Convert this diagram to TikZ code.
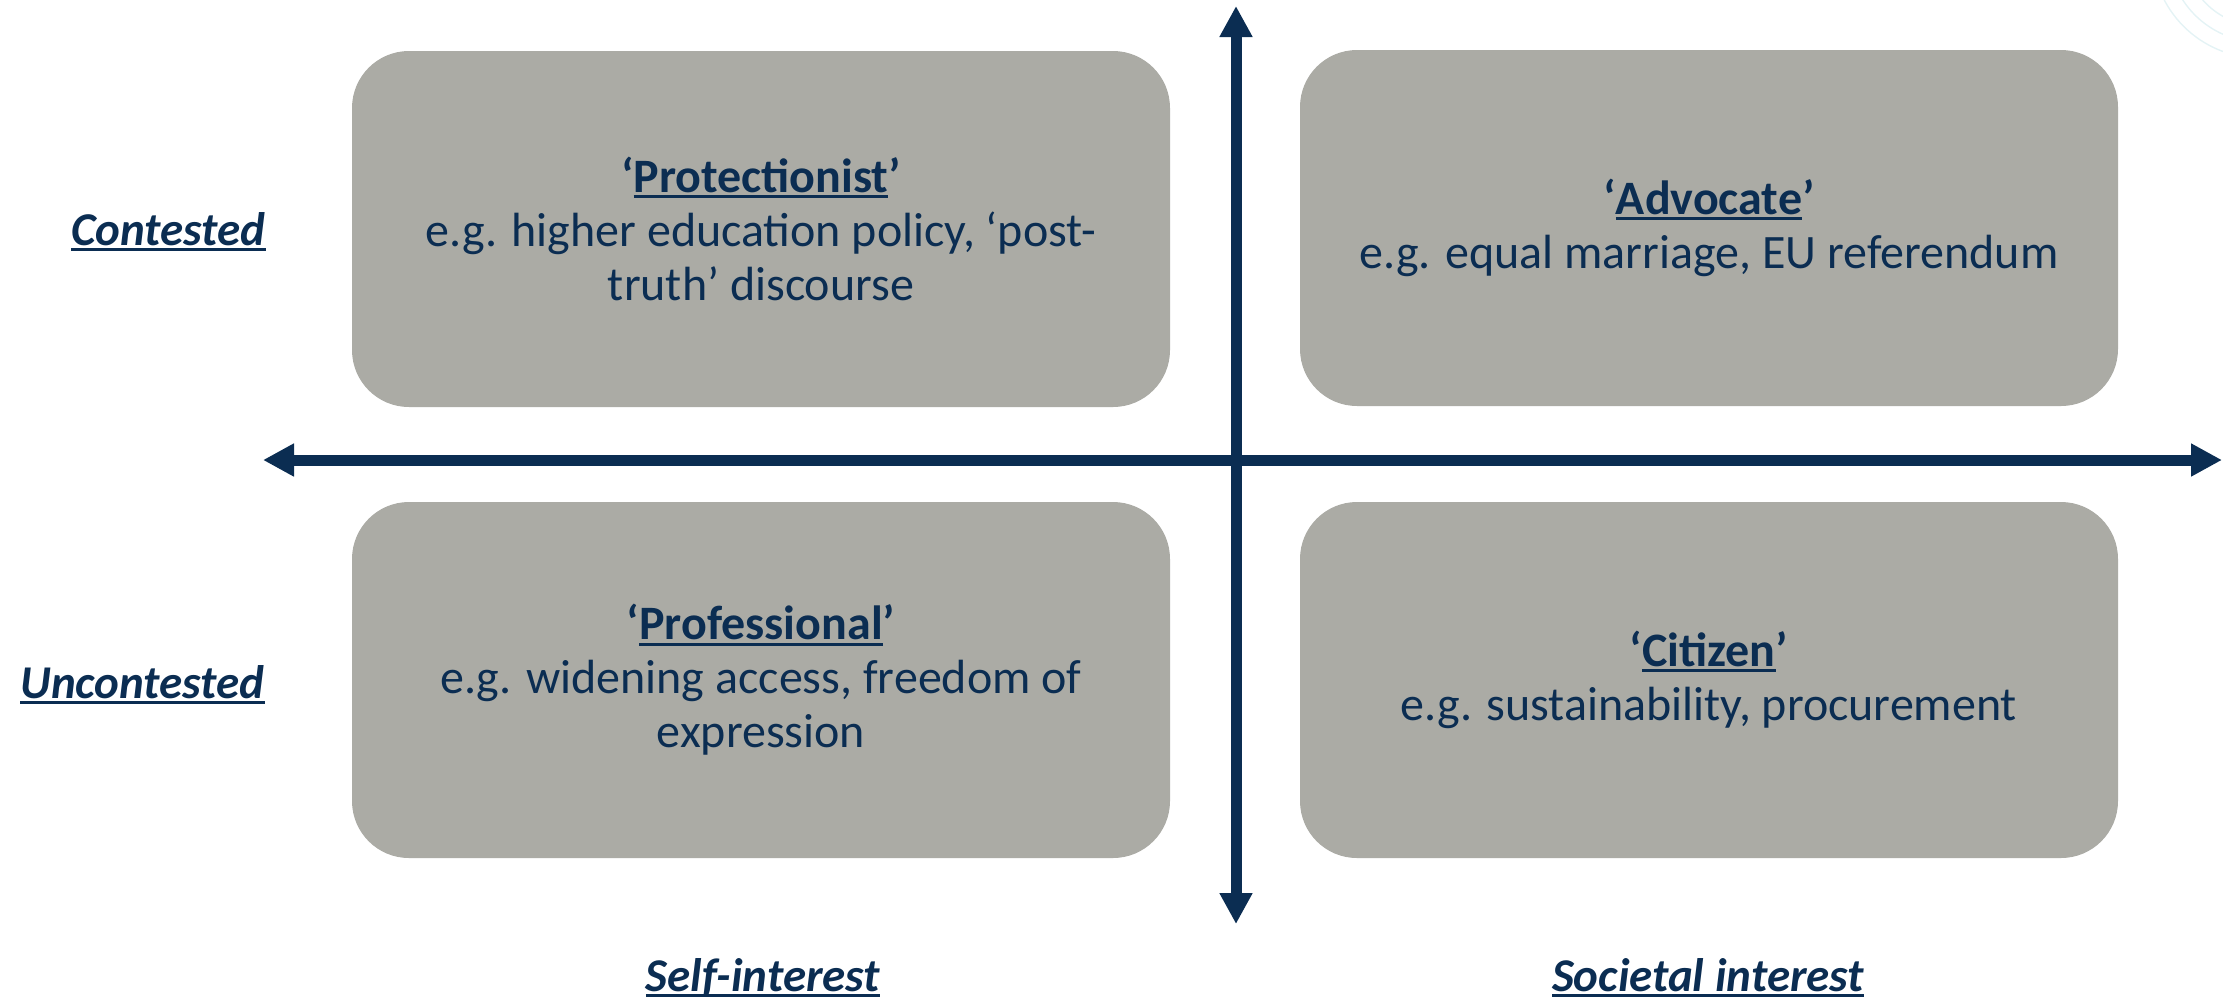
\documentclass[tikz,border=0pt]{standalone}
\usepackage{fontspec}
\setmainfont{Carlito}
\usetikzlibrary{arrows.meta}
\definecolor{navy}{HTML}{0B2D52}
\definecolor{boxgray}{HTML}{ABABA5}
\definecolor{wmark}{HTML}{E4F3F5}
\newcommand\myul[1]{\setbox0\hbox{#1}\rlap{\rule[-0.12em]{\wd0}{0.065em}}\box0}
\begin{document}
\begin{tikzpicture}[x=0.5pt,y=-0.5pt,
  quad/.style={fill=boxgray, rounded corners=28.5pt, minimum width=409pt, minimum height=178pt,
    align=center, text=navy, font=\fontsize{24}{27}\selectfont, inner sep=0pt},
  axislbl/.style={text=navy, font=\fontsize{23.5}{27}\selectfont\bfseries\itshape, inner sep=0pt},
  axis/.style={draw=navy, line width=5.5pt, {Triangle[width=15.5pt,length=15.5pt]}-{Triangle[width=15.5pt,length=15.5pt]}},
  wm/.style={draw=wmark, line width=0.7pt}]
\useasboundingbox (0,0) rectangle (2223,1003);
% faint watermark in the top right corner
\begin{scope}
\clip (2150,0) rectangle (2223,55);
\foreach \r in {30,38,46,54}
  \draw[wm] (2260,-50) circle[radius=\r pt];
\end{scope}
\node[quad] (prot) at (761,229) {\textbf{‘\myul{Protectionist}’}\\e.g. higher education policy, ‘post-\\truth’ discourse};
\node[quad] (adv) at (1709,228) {\textbf{‘\myul{Advocate}’}\\e.g. equal marriage, EU referendum};
\node[quad] (prof) at (761,680) {\textbf{‘\myul{Professional}’}\\e.g. widening access, freedom of\\expression};
\node[quad] (cit) at (1709,680) {\textbf{‘\myul{Citizen}’}\\e.g. sustainability, procurement};
\coordinate (L) at (263,460);
\coordinate (R) at (2222,460);
\coordinate (T) at (1236,6);
\coordinate (B) at (1236,924);
\draw[axis] (L) -- (R);
\draw[axis] (B) -- (T);
\node[axislbl, anchor=base east] (cont) at (266,245) {\myul{Contested}};
\node[axislbl, anchor=base east] (uncont) at (265,698) {\myul{Uncontested}};
\node[axislbl, anchor=base] (self) at (763,991) {\myul{Self-interest}};
\node[axislbl, anchor=base] (soc) at (1708,991) {\myul{Societal interest}};
\end{tikzpicture}
\end{document}
